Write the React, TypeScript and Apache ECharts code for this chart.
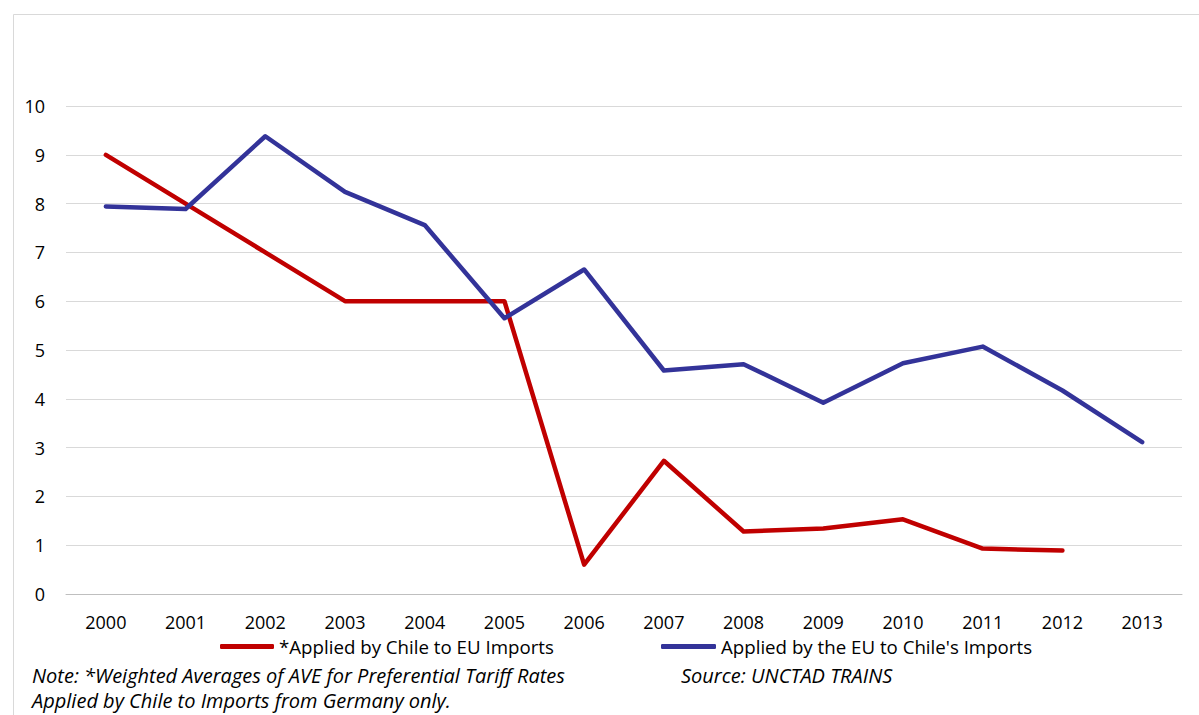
import React, { useEffect, useRef } from "react";
import * as echarts from "echarts";

const years = ["2000", "2001", "2002", "2003", "2004", "2005", "2006", "2007", "2008", "2009", "2010", "2011", "2012", "2013"];
const chileToEU = [9.0, 8.0, 7.0, 6.0, 6.0, 6.0, 0.6, 2.73, 1.28, 1.34, 1.53, 0.93, 0.89, null];
const euToChile = [7.94, 7.89, 9.38, 8.24, 7.56, 5.65, 6.65, 4.58, 4.71, 3.92, 4.73, 5.07, 4.17, 3.11];
const seriesNames = ["*Applied by Chile to EU Imports", "Applied by the EU to Chile's Imports"];
const noteLines = [
  "Note: *Weighted Averages of AVE for Preferential Tariff Rates",
  "Applied by Chile to Imports from Germany only.",
];
const sourceText = "Source: UNCTAD TRAINS";

const FONT = "'Open Sans', 'Liberation Sans', sans-serif";

export default function App() {
  const ref = useRef<HTMLDivElement>(null);

  useEffect(() => {
    if (!ref.current) return;
    const chart = echarts.init(ref.current, undefined, { renderer: "svg" });
    const legendText = { color: "#000000", fontSize: 18.7, fontFamily: FONT };
    chart.setOption({
      animation: false,
      backgroundColor: "#ffffff",
      textStyle: { fontFamily: FONT },
      grid: { left: 66, right: 17, top: 106, bottom: 121, containLabel: false },
      xAxis: {
        type: "category",
        data: years,
        boundaryGap: true,
        axisLine: { show: true, lineStyle: { color: "#bfbfbf", width: 1 } },
        axisTick: { show: false },
        axisLabel: { color: "#000000", fontSize: 18, margin: 19, fontFamily: FONT },
      },
      yAxis: {
        type: "value",
        min: 0,
        max: 10,
        interval: 1,
        axisLine: { show: false },
        axisTick: { show: false },
        axisLabel: { color: "#000000", fontSize: 18, margin: 21, fontFamily: FONT },
        splitLine: { lineStyle: { color: "#d9d9d9", width: 1 } },
      },
      legend: [
        {
          data: [seriesNames[0]],
          left: 220,
          top: 637,
          padding: 0,
          icon: "roundRect",
          itemWidth: 54,
          itemHeight: 5,
          itemGap: 0,
          textStyle: legendText,
        },
        {
          data: [seriesNames[1]],
          left: 661,
          top: 637,
          padding: 0,
          icon: "roundRect",
          itemWidth: 55,
          itemHeight: 5,
          itemGap: 0,
          textStyle: legendText,
        },
      ],
      series: [
        {
          name: seriesNames[0],
          type: "line",
          data: chileToEU,
          symbol: "none",
          color: "#c00000",
          lineStyle: { color: "#c00000", width: 4.5, cap: "round", join: "round" },
        },
        {
          name: seriesNames[1],
          type: "line",
          data: euToChile,
          symbol: "none",
          color: "#333399",
          lineStyle: { color: "#333399", width: 4.5, cap: "round", join: "round" },
        },
      ],
      graphic: [
        {
          type: "rect",
          silent: true,
          shape: { x: 13.5, y: 14.5, width: 1200, height: 720 },
          style: { fill: "none", stroke: "#d9d9d9", lineWidth: 1 },
          z: -1,
        },
        {
          type: "text",
          left: 32,
          top: 665,
          style: {
            text: noteLines[0],
            fill: "#000000",
            font: `italic 20px ${FONT}`,
          },
        },
        {
          type: "text",
          left: 32,
          top: 690,
          style: {
            text: noteLines[1],
            fill: "#000000",
            font: `italic 20px ${FONT}`,
          },
        },
        {
          type: "text",
          left: 681,
          top: 665,
          style: {
            text: sourceText,
            fill: "#000000",
            font: `italic 20px ${FONT}`,
          },
        },
      ],
    });
    return () => chart.dispose();
  }, []);

  return (
    <div
      ref={ref}
      style={{ position: "fixed", left: 0, top: 0, width: 1199, height: 715, background: "#ffffff" }}
    />
  );
}
